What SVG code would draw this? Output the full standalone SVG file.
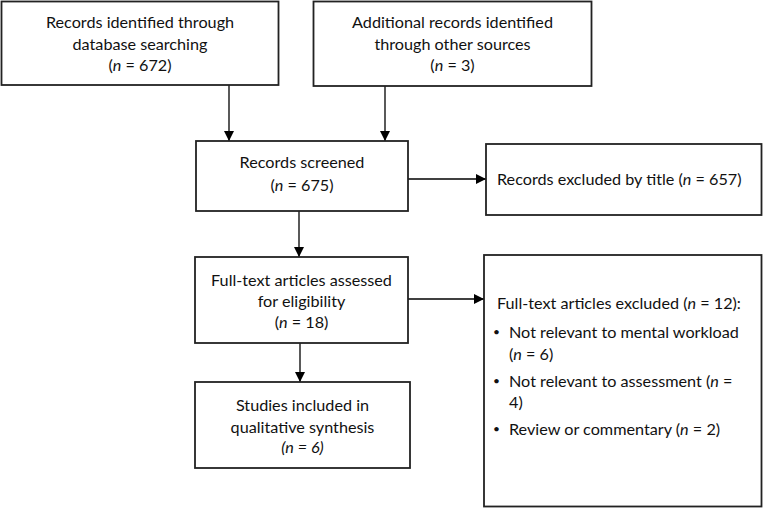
<svg xmlns="http://www.w3.org/2000/svg" width="763" height="508" viewBox="0 0 763 508">
<defs>
<marker id="ah" viewBox="0 0 10 10" refX="10" refY="5" markerWidth="10" markerHeight="10" markerUnits="userSpaceOnUse" orient="auto">
<path d="M0,0 L10,5 L0,10 Z" fill="#000"/>
</marker>
<style>
.box{fill:#fff;stroke:#222;stroke-width:1.8}
.t{font-family:Lato,"Liberation Sans",sans-serif;font-size:16.2px;fill:#111}
.c{text-anchor:middle}
.i{font-style:italic}
.b{font-family:Lato,"Liberation Sans",sans-serif;font-size:12px;fill:#111}
.ln{stroke:#000;stroke-width:1.3;fill:none;marker-end:url(#ah)}
</style>
</defs>
<rect width="763" height="508" fill="#fff"/>
<g id="connectors">
<line class="ln" x1="229" y1="85" x2="229" y2="141"/>
<line class="ln" x1="385" y1="86" x2="385" y2="141"/>
<line class="ln" x1="408" y1="179" x2="486" y2="179"/>
<line class="ln" x1="299" y1="211" x2="299" y2="257"/>
<line class="ln" x1="408" y1="299" x2="484" y2="299"/>
<line class="ln" x1="300" y1="343" x2="300" y2="382"/>
</g>
<g id="n1">
<rect class="box" x="1.5" y="1.5" width="277" height="83.5"/>
<text class="t c" x="140" y="28">Records identified through</text>
<text class="t c" x="140" y="50">database searching</text>
<text class="t c" x="140" y="71">(<tspan class="i">n</tspan> = 672)</text>
</g>
<g id="n2">
<rect class="box" x="313.5" y="1.5" width="278" height="84.5"/>
<text class="t c" x="452.5" y="28">Additional records identified</text>
<text class="t c" x="452.5" y="50">through other sources</text>
<text class="t c" x="452.5" y="71">(<tspan class="i">n</tspan> = 3)</text>
</g>
<g id="n3">
<rect class="box" x="196" y="141" width="212" height="70"/>
<text class="t c" x="302" y="168">Records screened</text>
<text class="t c" x="302" y="191">(<tspan class="i">n</tspan> = 675)</text>
</g>
<g id="n4">
<rect class="box" x="486" y="144" width="275.5" height="71"/>
<text class="t" x="497" y="185">Records excluded by title (<tspan class="i">n</tspan> = 657)</text>
</g>
<g id="n5">
<rect class="box" x="195" y="257" width="213" height="86"/>
<text class="t c" x="301.5" y="286">Full-text articles assessed</text>
<text class="t c" x="301.5" y="307">for eligibility</text>
<text class="t c" x="301.5" y="328">(<tspan class="i">n</tspan> = 18)</text>
</g>
<g id="n6">
<rect class="box" x="195" y="382" width="215" height="86"/>
<text class="t c" x="302.5" y="411">Studies included in</text>
<text class="t c" x="302.5" y="433">qualitative synthesis</text>
<text class="t c i" x="302.5" y="453">(n = 6)</text>
</g>
<g id="n7">
<rect class="box" x="484" y="255" width="277.5" height="251.5"/>
<text class="t" x="497" y="309">Full-text articles excluded (<tspan class="i">n</tspan> = 12):</text>
<text class="b" x="493" y="336">•</text>
<text class="t" x="509" y="338">Not relevant to mental workload</text>
<text class="t" x="509" y="360">(<tspan class="i">n</tspan> = 6)</text>
<text class="b" x="493" y="385">•</text>
<text class="t" x="509" y="387">Not relevant to assessment (<tspan class="i">n</tspan> =</text>
<text class="t" x="509" y="408">4)</text>
<text class="b" x="493" y="433">•</text>
<text class="t" x="509" y="435">Review or commentary (<tspan class="i">n</tspan> = 2)</text>
</g>
</svg>
